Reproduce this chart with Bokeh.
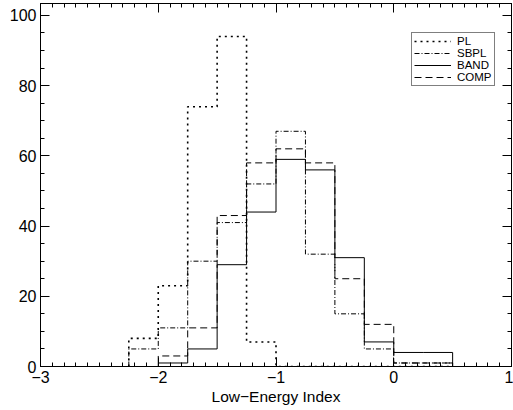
from bokeh.plotting import figure
from bokeh.models import (LinearAxis, SingleIntervalTicker, Range1d, Legend, LegendItem,
                          CustomJSTickFormatter)
from bokeh.embed import file_html
from bokeh.resources import INLINE

# ---- data ----
bin_edges = [-2.25, -2.0, -1.75, -1.5, -1.25, -1.0, -0.75, -0.5, -0.25, 0.0, 0.25, 0.5]
pl_counts = [8, 23, 74, 94, 7, 0, 0, 0, 0, 0, 0]
sbpl_counts = [5, 11, 30, 41, 52, 67, 32, 15, 5, 1, 1]
band_counts = [0, 1, 5, 29, 44, 59, 56, 31, 7, 4, 4]
comp_counts = [0, 3, 11, 43, 58, 62, 58, 25, 12, 1, 1]
series_names = ["PL", "SBPL", "BAND", "COMP"]
x_ticks = [-3, -2, -1, 0, 1]
x_tick_labels = ["\u22123", "\u22122", "\u22121", "0", "1"]
y_ticks = [0, 20, 40, 60, 80, 100]
y_tick_labels = ["0", "20", "40", "60", "80", "100"]
x_label = "Low\u2212Energy Index"

FONT = "Liberation Sans"

p = figure(width=513, height=410, output_backend="svg", toolbar_location=None,
           x_range=Range1d(-3, 1), y_range=Range1d(0, 103.4),
           min_border_left=40, min_border_right=2, min_border_top=3, min_border_bottom=44,
           background_fill_color="white", border_fill_color="white")
p.grid.visible = False
p.outline_line_color = "black"
p.outline_line_width = 1


def style_axis(ax, ticker, labels=None, show=True):
    ax.ticker = ticker
    ax.axis_line_color = "black"
    ax.major_tick_line_color = "black"
    ax.minor_tick_line_color = "black"
    ax.major_tick_in = 9
    ax.major_tick_out = 0
    ax.minor_tick_in = 4
    ax.minor_tick_out = 0
    ax.major_label_text_font = FONT
    ax.major_label_text_color = "black"
    ax.major_label_text_font_size = "16px"
    if show:
        ax.major_label_standoff = 4
        if labels:
            ax.major_label_overrides = labels
    else:
        ax.formatter = CustomJSTickFormatter(code="return ''")
        ax.major_label_standoff = 0


style_axis(p.xaxis[0], SingleIntervalTicker(interval=1, num_minor_ticks=10),
           {t: l for t, l in zip(x_ticks, x_tick_labels)})
style_axis(p.yaxis[0], SingleIntervalTicker(interval=20, num_minor_ticks=4),
           {t: l for t, l in zip(y_ticks, y_tick_labels)})
p.xaxis[0].axis_label = x_label
p.xaxis[0].axis_label_text_font = FONT
p.xaxis[0].axis_label_text_font_size = "15.5px"
p.xaxis[0].axis_label_text_font_style = "normal"
p.xaxis[0].axis_label_text_color = "black"
p.xaxis[0].axis_label_standoff = 2

top = LinearAxis()
style_axis(top, SingleIntervalTicker(interval=1, num_minor_ticks=10), show=False)
p.add_layout(top, "above")
right = LinearAxis()
style_axis(right, SingleIntervalTicker(interval=20, num_minor_ticks=4), show=False)
p.add_layout(right, "right")

styles = [
    dict(line_dash="2 4", line_width=1.6),
    dict(line_dash="5 2 1 2", line_width=1),
    dict(line_dash="solid", line_width=1),
    dict(line_dash="7 4", line_width=1),
]
all_counts = [pl_counts, sbpl_counts, band_counts, comp_counts]

items = []
for name, counts, st in zip(series_names, all_counts, styles):
    xs = [bin_edges[0]] + list(bin_edges)
    ys = [0] + list(counts) + [0]
    r = p.step(x=xs, y=ys, mode="after", line_color="black",
               line_width=st["line_width"], line_dash=st["line_dash"])
    items.append(LegendItem(label=name, renderers=[r]))

legend = Legend(items=items, location=(371, 280),
                label_text_font=FONT, label_text_font_size="11.5px",
                label_text_color="black",
                glyph_width=37, glyph_height=12, label_height=12,
                label_standoff=6, spacing=0, padding=2, margin=0,
                border_line_color="black", border_line_width=1,
                background_fill_color="white", background_fill_alpha=1)
p.add_layout(legend, "center")

open("out.html", "w").write(file_html(p, INLINE))
